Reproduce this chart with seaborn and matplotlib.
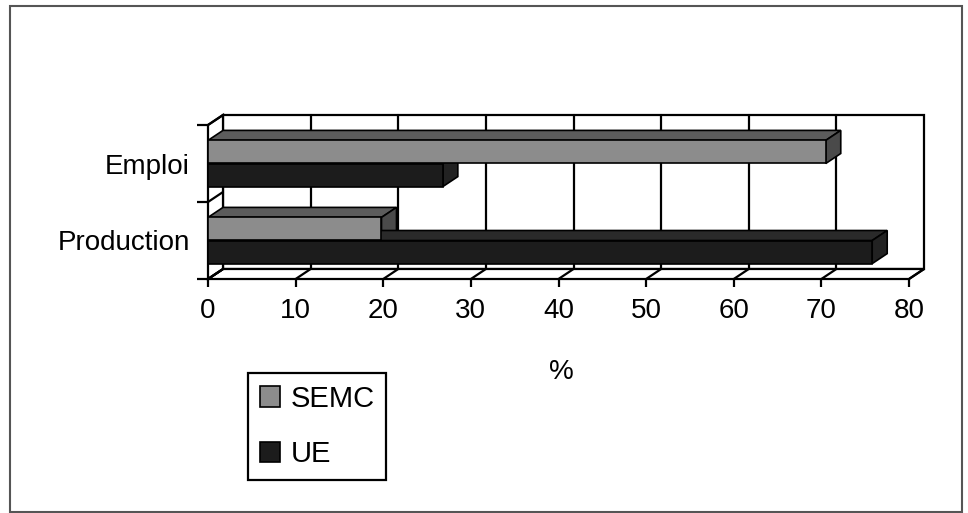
import numpy as np
import pandas as pd
import matplotlib
matplotlib.use("Agg")
import matplotlib.pyplot as plt
from matplotlib.patches import Polygon, Rectangle, Patch
import seaborn as sns

categories = ["Emploi", "Production"]
series = ["SEMC", "UE"]
semc_values = [70.5, 19.8]
ue_values = [26.8, 75.8]
x_ticks = [0, 10, 20, 30, 40, 50, 60, 70, 80]

front_colors = {"SEMC": "#8c8c8c", "UE": "#1c1c1c"}
top_colors = {"SEMC": "#5c5c5c", "UE": "#2a2a2a"}
side_colors = {"SEMC": "#4a4a4a", "UE": "#222222"}

df = pd.DataFrame({
    "cat": categories * 2,
    "serie": ["SEMC"] * 2 + ["UE"] * 2,
    "value": semc_values + ue_values,
})

sns.set_theme(style="white")
plt.rcParams["font.family"] = ["Liberation Sans", "DejaVu Sans"]
plt.rcParams["text.color"] = "black"
plt.rcParams["xtick.color"] = "black"
plt.rcParams["ytick.color"] = "black"

W, H = 968, 513
fig = plt.figure(figsize=(W / 100, H / 100), dpi=100)
# front plane of the 3d box, in pixels: x 208..909, y 125..279
ax = fig.add_axes([208 / W, (H - 279) / H, 701 / W, 154 / H])
ax.set_facecolor("none")

sns.barplot(data=df, x="value", y="cat", hue="serie", orient="h",
            palette=front_colors, width=0.6, edgecolor="black",
            linewidth=1.2, legend=False, ax=ax, zorder=5)

ax.set_xlim(0, 80)
ax.set_ylim(1.5, -0.5)

# depth of the pseudo 3d effect, in data units
dx = 15 * 80 / 701
dy = -10 / 77

lw = 1.6
# back wall
ax.add_patch(Rectangle((dx, -0.5 + dy), 80, 2, facecolor="white",
                       edgecolor="black", lw=lw, zorder=1, clip_on=False))
for t in x_ticks[1:-1]:
    ax.plot([t + dx, t + dx], [-0.5 + dy, 1.5 + dy], color="black", lw=lw,
            zorder=1.5, clip_on=False)
# floor
ax.add_patch(Polygon([(0, 1.5), (80, 1.5), (80 + dx, 1.5 + dy), (dx, 1.5 + dy)],
                     closed=True, facecolor="white", edgecolor="black", lw=lw,
                     zorder=2, clip_on=False))
for t in x_ticks:
    ax.plot([t, t + dx], [1.5, 1.5 + dy], color="black", lw=lw, zorder=2.5,
            clip_on=False)
# left wall
ax.add_patch(Polygon([(0, -0.5), (0, 1.5), (dx, 1.5 + dy), (dx, -0.5 + dy)],
                     closed=True, facecolor="white", edgecolor="black", lw=lw,
                     zorder=2, clip_on=False))
for yb in [-0.5, 0.5, 1.5]:
    ax.plot([0, dx], [yb, yb + dy], color="black", lw=lw, zorder=2.5,
            clip_on=False)

# top and side faces of the bars
bars = [p for p in ax.patches if isinstance(p, Rectangle) and p.get_zorder() == 5]
for bar in bars:
    w = bar.get_width()
    y0 = bar.get_y()
    h = bar.get_height()
    fc = bar.get_facecolor()
    s = "SEMC" if np.allclose(fc[:3], matplotlib.colors.to_rgb(front_colors["SEMC"])) else "UE"
    ax.add_patch(Polygon([(0, y0), (w, y0), (w + dx, y0 + dy), (dx, y0 + dy)],
                         closed=True, facecolor=top_colors[s], edgecolor="black",
                         lw=1.2, zorder=4, clip_on=False))
    ax.add_patch(Polygon([(w, y0), (w, y0 + h), (w + dx, y0 + h + dy), (w + dx, y0 + dy)],
                         closed=True, facecolor=side_colors[s], edgecolor="black",
                         lw=1.2, zorder=4, clip_on=False))

for sp in ax.spines.values():
    sp.set_visible(False)

ax.set_xticks(x_ticks)
ax.set_xticklabels([str(t) for t in x_ticks])
ax.tick_params(axis="x", direction="out", length=6, width=lw, color="black",
               pad=8, labelsize=20, labelcolor="black", bottom=True)
ax.set_yticks([0, 1])
ax.set_yticklabels(categories)
ax.set_yticks([-0.5, 0.5, 1.5], minor=True)
ax.tick_params(axis="y", which="major", length=0, pad=13, labelsize=20,
               labelcolor="black")
ax.tick_params(axis="y", which="minor", direction="out", length=8, width=lw,
               color="black", left=True)
ax.set_xlabel("")
ax.set_ylabel("")
ax.grid(False)

fig.text(561 / W, 1 - 372 / H, "%", ha="center", va="center", fontsize=20,
         color="black")

handles = [Patch(facecolor=front_colors[s], edgecolor="black", lw=1.2) for s in series]
leg = ax.legend(handles, series, loc="upper left",
                bbox_to_anchor=(248 / W, 1 - 373 / H), bbox_transform=fig.transFigure,
                borderaxespad=0, frameon=True, fancybox=False, framealpha=1,
                edgecolor="black", fontsize=21, handlelength=0.7, handleheight=0.7,
                handletextpad=0.35, labelspacing=0.95, borderpad=0.4)
leg.get_frame().set_linewidth(1.6)
for txt in leg.get_texts():
    txt.set_color("black")

fig.patches.append(Rectangle((10 / W, 1 / H), 952 / W, 506 / H, transform=fig.transFigure,
                             fill=False, edgecolor="#555555", lw=1.5))

fig.savefig("out.png", dpi=100, facecolor="white")
